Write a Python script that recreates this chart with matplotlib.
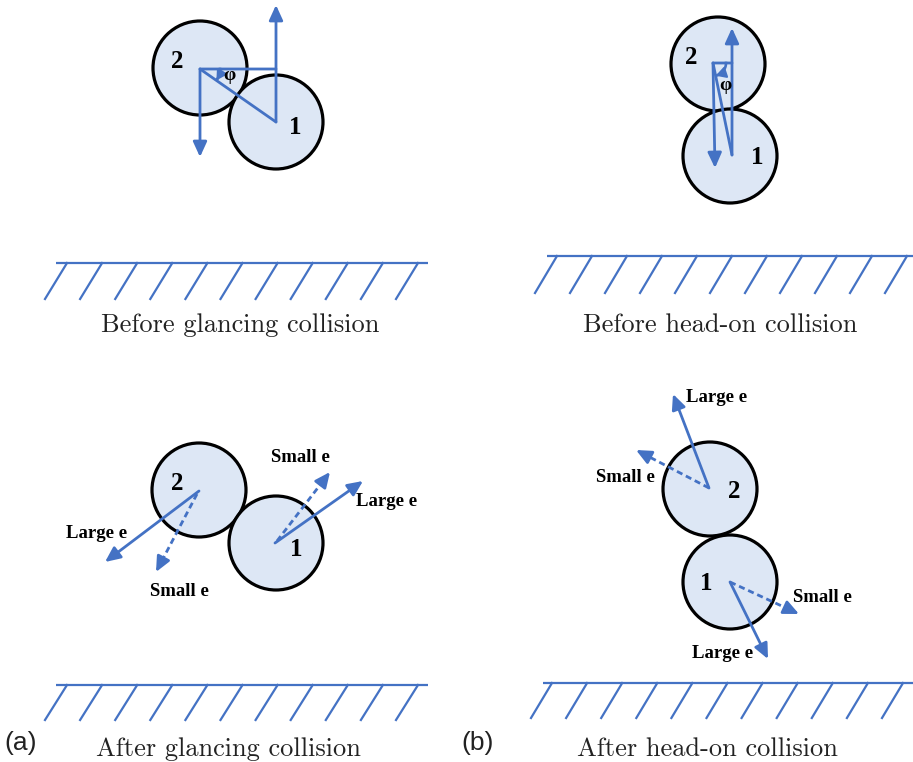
import numpy as np
import matplotlib.pyplot as plt
from matplotlib.patches import Circle, FancyArrowPatch

plt.rcParams['axes.unicode_minus'] = False

# canvas in pixel units, y downwards
W, H = 913, 762
blue = '#4472c4'
fill = '#dde7f5'

# ball centres (x, y) and radius
R = 47
balls_tl = [(200, 68), (276, 122)]     # 2, 1
balls_tr = [(718, 64), (730, 156)]
balls_bl = [(199, 490), (276, 543)]
balls_br = [(710, 489), (730, 582)]
ball_names = ['2', '1']

# ball-number label positions
nums_tl = [(177, 62), (295, 128)]
nums_tr = [(691, 57), (757, 157)]
nums_bl = [(177, 484), (296, 550)]
nums_br = [(734, 491), (706, 583)]

# velocity construction lines: (x0, y0, x1, y1, arrow?)
lines_tl = [(276, 122, 276, 5, True), (200, 69, 276, 69, False),
            (200, 69, 276, 122, False), (200, 69, 200, 157, True)]
lines_tr = [(732, 155, 732, 28, True), (713, 63, 732, 63, False),
            (713, 63, 732, 155, False), (713, 63, 715, 168, True)]
phi_tl = (200, 69, 20, (229, 76))
phi_tr = (713, 63, 13, (725, 86))

# rebound arrows: (x0, y0, x1, y1, dashed)
arrows_bl = [(199, 491, 105, 562, False), (197, 494, 156, 572, True),
             (275, 543, 363, 481, False), (277, 541, 330, 472, True)]
arrows_br = [(709, 488, 673, 394, False), (709, 488, 636, 450, True),
             (730, 582, 768, 659, False), (730, 582, 799, 614, True)]
elabels_bl = [('Large e', 97, 533), ('Small e', 179, 592),
              ('Small e', 300, 458), ('Large e', 387, 502)]
elabels_br = [('Large e', 717, 397), ('Small e', 625, 478),
              ('Small e', 822, 597), ('Large e', 723, 654)]

# ground: (y, x_start, x_end, first hatch, last hatch, dx, dy)
grounds = [(263, 56, 428, 67, 418, 22, 36),
           (256, 547, 913, 557, 907, 22, 37),
           (685, 56, 428, 67, 418, 22, 35),
           (683, 543, 913, 552, 903, 21, 35)]
n_hatch = 11

captions = [('Before glancing collision', 240, 332),
            ('Before head-on collision', 720, 332),
            ('After glancing collision', 228, 756),
            ('After head-on collision', 707, 756)]
panel_tags = [('(a)', 21, 750), ('(b)', 478, 750)]

fig = plt.figure(figsize=(W / 100, H / 100), dpi=100)
ax = fig.add_axes([0, 0, 1, 1])
ax.set_xlim(0, W)
ax.set_ylim(H, 0)
ax.axis('off')

HEAD = '-|>,head_length=0.7,head_width=0.32'


def arrow(x0, y0, x1, y1, dashed=False, head=True):
    if dashed:
        # dashed shaft, solid head on the last few pixels
        L = np.hypot(x1 - x0, y1 - y0)
        f = 1 - 14 / L
        xm, ym = x0 + f * (x1 - x0), y0 + f * (y1 - y0)
        ax.plot([x0, xm], [y0, ym], color=blue, lw=2.0,
                linestyle=(0, (2.2, 1.4)), zorder=4)
        x0, y0 = xm, ym
    style = HEAD if head else '-'
    p = FancyArrowPatch((x0, y0), (x1, y1), arrowstyle=style, mutation_scale=13,
                        color=blue, lw=2.0, shrinkA=0, shrinkB=0, zorder=4)
    ax.add_patch(p)


def balls(centres, labels):
    for (cx, cy), (tx, ty), name in zip(centres, labels, ball_names):
        ax.add_patch(Circle((cx, cy), R, facecolor=fill, edgecolor='black',
                            lw=2.3, zorder=2))
        ax.text(tx, ty, name, ha='center', va='center', fontsize=18,
                fontweight='bold', family='Liberation Serif', zorder=5)


def phi_arc(cx, cy, r, end, txt):
    ang = np.arctan2(end[3] - end[1], end[2] - end[0])
    t = np.linspace(0, ang, 30)
    xs, ys = cx + r * np.cos(t), cy + r * np.sin(t)
    ax.plot(xs[:-3], ys[:-3], color=blue, lw=1.9, zorder=4)
    ax.add_patch(FancyArrowPatch((xs[-6], ys[-6]), (xs[-1], ys[-1]),
                                 arrowstyle='-|>,head_length=0.5,head_width=0.28',
                                 mutation_scale=12, color=blue, lw=1.5,
                                 shrinkA=0, shrinkB=0, zorder=4))
    ax.text(txt[0], txt[1], 'φ', ha='center', va='center', fontsize=14,
            fontweight='bold', family='Liberation Serif', zorder=5)


balls(balls_tl, nums_tl)
balls(balls_tr, nums_tr)
balls(balls_bl, nums_bl)
balls(balls_br, nums_br)

for ln in lines_tl + lines_tr:
    arrow(*ln[:4], head=ln[4])
phi_arc(*phi_tl[:3], lines_tl[2], phi_tl[3])
phi_arc(*phi_tr[:3], lines_tr[2], phi_tr[3])

for a in arrows_bl + arrows_br:
    arrow(*a[:4], dashed=a[4])
for txt, x, y in elabels_bl + elabels_br:
    ax.text(x, y, txt, ha='center', va='center', fontsize=13.5,
            fontweight='bold', family='Liberation Serif', zorder=5)

for y, xa, xb, h0, h1, dx, dy in grounds:
    ax.plot([xa, xb], [y, y], color=blue, lw=1.6, solid_capstyle='butt')
    for hx in np.linspace(h0, h1, n_hatch):
        ax.plot([hx, hx - dx], [y, y + dy], color=blue, lw=1.6)

for txt, x, y in captions:
    ax.text(x, y, txt, ha='center', va='baseline', fontsize=19,
            family='cmr10', color='#222222')
for txt, x, y in panel_tags:
    ax.text(x, y, txt, ha='center', va='baseline', fontsize=19,
            family='Liberation Sans', color='#222222')

fig.savefig('out.png', dpi=100, facecolor='white')
